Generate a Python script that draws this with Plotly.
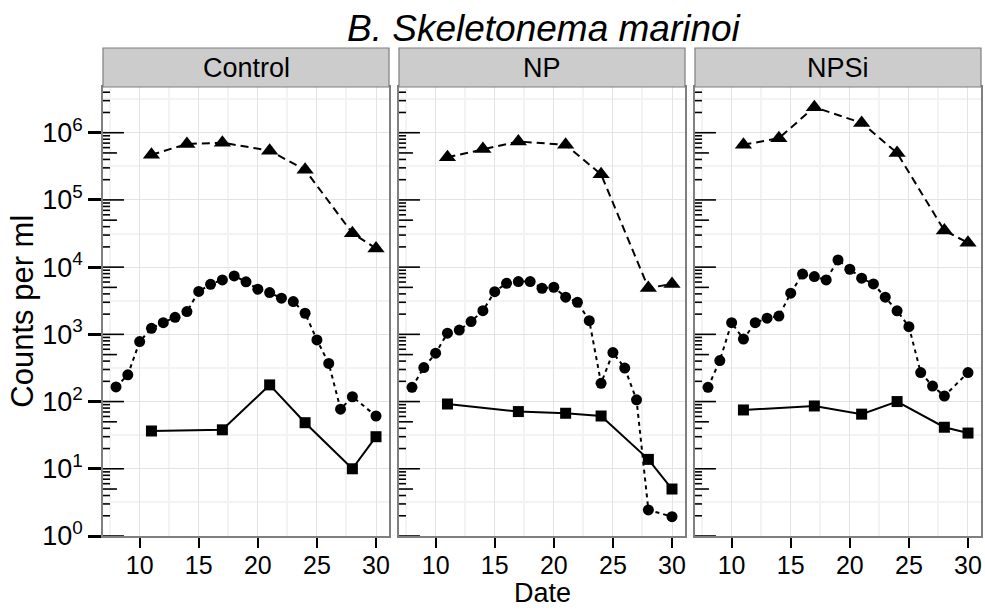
import math
import plotly.graph_objects as go

# ---------------- data ----------------
panels = ["Control", "NP", "NPSi"]

circle_dates = [8, 9, 10, 11, 12, 13, 14, 15, 16, 17, 18, 19, 20, 21, 22, 23, 24, 25, 26, 27, 28, 30]
circle_control = [165, 250, 780, 1230, 1490, 1790, 2180, 4350, 5560, 6460, 7400, 6050, 4700, 4180,
                  3450, 3080, 2060, 825, 370, 77, 118, 61]
circle_np = [163, 320, 525, 1040, 1160, 1550, 2250, 4320, 5750, 6090, 6090, 4850, 5020, 3570,
             3000, 1600, 187, 535, 315, 106, 2.44, 1.94]
circle_npsi = [163, 407, 1490, 850, 1490, 1740, 1870, 4100, 7900, 7230, 6450, 12800, 9300, 6840,
               5630, 3570, 2240, 1300, 270, 170, 121, 270]

triangle_dates = [11, 14, 17, 21, 24, 28, 30]
triangle_control = [4.7e5, 6.8e5, 7.1e5, 5.4e5, 2.8e5, 3.2e4, 1.9e4]
triangle_np = [4.3e5, 5.7e5, 7.4e5, 6.6e5, 2.4e5, 4.9e3, 5.6e3]
triangle_npsi = [6.6e5, 8.3e5, 2.4e6, 1.4e6, 5.0e5, 3.5e4, 2.3e4]

square_dates = [11, 17, 21, 24, 28, 30]
square_control = [36.5, 38, 177, 48.5, 10, 30]
square_np = [92, 71, 67, 61, 13.8, 5.0]
square_npsi = [75, 86, 65, 100, 41.5, 34]

x_ticks = [10, 15, 20, 25, 30]
x_minor = [7.5, 12.5, 17.5, 22.5, 27.5]
decades = [0, 1, 2, 3, 4, 5, 6]
y_tick_vals = [10 ** k for k in decades]
y_tick_text = ["10<sup>%d</sup>" % k for k in decades]
y_minor = [10 ** (k + 0.5) for k in decades]

title_text = "B. Skeletonema marinoi"
x_title = "Date"
y_title = "Counts per ml"

circles = [circle_control, circle_np, circle_npsi]
triangles = [triangle_control, triangle_np, triangle_npsi]
squares = [square_control, square_np, square_npsi]

# ---------------- style ----------------
FONT = "Liberation Sans, Arial, Helvetica, sans-serif"
W, H = 985, 610
L, R, T, B = 103, 2, 87, 74
plot_w = W - L - R
plot_h = H - T - B
gap = 10
pw = (plot_w - 2 * gap) / 3
domains = [[(i * (pw + gap)) / plot_w, (i * (pw + gap) + pw) / plot_w] for i in range(3)]
YRANGE = [0, 6.68]
XRANGE = [6.9, 31.1]
strip_h = 39 / plot_h

fig = go.Figure()

for i, name in enumerate(panels):
    xa = "x" if i == 0 else "x%d" % (i + 1)
    ya = "y" if i == 0 else "y%d" % (i + 1)
    fig.add_trace(go.Scatter(x=triangle_dates, y=triangles[i], mode="lines+markers",
                             line=dict(color="black", width=2, dash="8px,5px"),
                             marker=dict(symbol="triangle-up", size=15, color="black"),
                             xaxis=xa, yaxis=ya, showlegend=False))
    fig.add_trace(go.Scatter(x=circle_dates, y=circles[i], mode="lines+markers",
                             line=dict(color="black", width=2, dash="4px,4px"),
                             marker=dict(symbol="circle", size=11, color="black"),
                             xaxis=xa, yaxis=ya, showlegend=False))
    fig.add_trace(go.Scatter(x=square_dates, y=squares[i], mode="lines+markers",
                             line=dict(color="black", width=2),
                             marker=dict(symbol="square", size=11, color="black"),
                             xaxis=xa, yaxis=ya, showlegend=False))

    xkey = "xaxis" if i == 0 else "xaxis%d" % (i + 1)
    ykey = "yaxis" if i == 0 else "yaxis%d" % (i + 1)
    fig.update_layout(**{
        xkey: dict(domain=domains[i], range=XRANGE, anchor=ya, tickvals=x_ticks,
                   ticks="outside", ticklen=10, tickwidth=2, tickcolor="black",
                   ticklabelstandoff=-4,
                   tickfont=dict(family=FONT, size=25, color="black"),
                   showgrid=True, gridcolor="#E3E3E3", gridwidth=1.2,
                   minor=dict(tickvals=x_minor, showgrid=True, gridcolor="#F3F3F3", gridwidth=2, ticks=""),
                   showline=True, mirror=True, linecolor="#7F7F7F", linewidth=1.5, zeroline=False),
        ykey: dict(domain=[0, 1], type="log", range=YRANGE, anchor=xa,
                   tickvals=y_tick_vals, ticktext=y_tick_text,
                   showticklabels=(i == 0), ticks="outside" if i == 0 else "",
                   ticklen=13, tickwidth=2.5, tickcolor="black",
                   tickfont=dict(family=FONT, size=27, color="black"),
                   showgrid=True, gridcolor="#E3E3E3", gridwidth=1.2,
                   minor=dict(tickvals=y_minor, showgrid=True, gridcolor="#F3F3F3", gridwidth=2, ticks=""),
                   showline=True, mirror=True, linecolor="#7F7F7F", linewidth=1.5, zeroline=False),
    })

    # strip
    fig.add_shape(type="rect", xref="paper", yref="paper", x0=domains[i][0], x1=domains[i][1],
                  y0=1, y1=1 + strip_h, fillcolor="#CCCCCC", line=dict(color="#7F7F7F", width=1.2),
                  layer="above")
    fig.add_annotation(x=(domains[i][0] + domains[i][1]) / 2, y=1 + strip_h / 2, xref="paper", yref="paper",
                       text=name, showarrow=False, xanchor="center", yanchor="middle",
                       font=dict(family=FONT, size=27, color="black"))

    # log ticks (annotation_logticks style) inside left edge
    for k in decades:
        for d in range(1, 10):
            v = d * 10 ** k
            if math.log10(v) > YRANGE[1]:
                continue
            length = 21 if d == 1 else (14 if d == 5 else 7)
            fig.add_shape(type="line", xref=xa + " domain", yref=ya, x0=0, x1=length / pw,
                          y0=v, y1=v, line=dict(color="black", width=1.6), layer="above")

fig.add_annotation(x=0.503, y=1 + (T - 28) / plot_h, xref="paper", yref="paper",
                   text="<i>%s</i>" % title_text, showarrow=False, xanchor="center", yanchor="middle",
                   font=dict(family=FONT, size=37, color="black"))
fig.add_annotation(x=0.5, y=-(610 - (H - B)) / plot_h, xref="paper", yref="paper",
                   text=x_title, showarrow=False, xanchor="center", yanchor="bottom",
                   font=dict(family=FONT, size=27, color="black"))
fig.add_annotation(x=-(L - 22) / plot_w, y=0.5, xref="paper", yref="paper",
                   text=y_title, showarrow=False, xanchor="center", yanchor="middle", textangle=-90,
                   font=dict(family=FONT, size=31, color="black"))

fig.update_layout(width=W, height=H, margin=dict(l=L, r=R, t=T, b=B, pad=0),
                  paper_bgcolor="white", plot_bgcolor="white", showlegend=False)

fig.write_html("out.html")
